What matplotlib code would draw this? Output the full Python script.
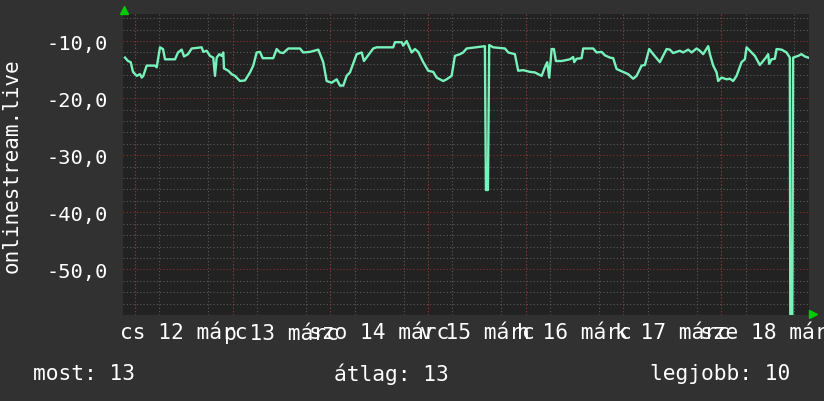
import datetime as dt
import matplotlib
matplotlib.use("Agg")
import matplotlib.pyplot as plt
import matplotlib.dates as mdates
from matplotlib.ticker import MultipleLocator, FuncFormatter

# hours after 2020-03-12 00:00 and the values
hours = [-2.46, -1.72, -1.06, -0.49, 0.42, 1.23, 1.65, 2.04, 2.87, 4.91,
         5.33, 6.14, 6.88, 7.37, 9.83, 10.56, 11.47, 12.04, 13.02, 13.93,
         16.38, 16.78, 17.61, 18.42, 19.23, 19.65, 20.07, 20.71, 21.30, 21.69,
         21.86, 22.92, 23.75, 24.56, 25.79, 27.02, 28.25, 29.06, 29.89, 30.71,
         31.37, 33.97, 34.81, 35.62, 36.43, 37.66, 40.53, 41.34, 42.99, 45.03,
         46.25, 47.09, 48.32, 49.55, 50.36, 51.17, 52.00, 52.81, 54.46, 55.69,
         56.25, 58.54, 59.37, 63.45, 63.87, 65.51, 65.90, 66.74, 67.55, 67.97,
         68.78, 69.59, 70.82, 72.04, 73.27, 74.11, 75.73, 76.57, 77.79, 78.60,
         79.83, 80.64, 81.48, 85.97, 86.22, 86.71, 87.03, 88.01, 90.89, 91.70,
         93.34, 94.15, 95.38, 97.03, 98.26, 99.07, 99.90, 100.71, 101.28, 101.77,
         102.36, 102.92, 103.41, 104.81, 106.85, 107.66, 107.91, 108.50, 109.73, 110.12,
         112.58, 113.41, 114.64, 115.45, 116.68, 117.49, 118.33, 119.95, 121.18, 122.40,
         123.24, 124.47, 125.28, 126.33, 127.32, 128.96, 130.61, 131.42, 132.23, 133.87,
         134.68, 135.91, 136.75, 137.98, 138.79, 139.60, 140.83, 141.25, 142.06, 142.90,
         143.28, 144.12, 145.35, 146.16, 146.97, 147.80, 149.03, 149.84, 150.26, 151.49,
         152.30, 153.53, 155.01, 155.57, 155.81, 156.40, 157.21, 157.63, 158.86, 160.08,
         160.89, 161.00, 161.50, 161.70, 162.93, 163.76, 164.58, 165.39]
values = [-12.9, -13.5, -13.7, -15.4, -16.1, -15.8, -16.4, -16.1, -14.3, -14.3,
          -14.6, -11.1, -11.4, -13.2, -13.2, -12.0, -11.5, -12.7, -12.3, -11.3,
          -11.1, -11.9, -11.7, -12.6, -12.9, -16.1, -12.9, -12.3, -12.6, -12.0,
          -14.8, -15.2, -15.8, -16.1, -17.0, -16.9, -15.5, -14.3, -12.0, -11.9,
          -13.0, -13.0, -11.4, -12.0, -12.1, -11.3, -11.3, -12.0, -11.9, -11.5,
          -13.7, -17.0, -17.3, -16.7, -17.8, -17.8, -16.1, -15.5, -12.3, -12.0,
          -13.5, -11.3, -11.1, -11.1, -10.2, -10.2, -10.8, -10.0, -11.3, -12.0,
          -11.4, -11.9, -13.7, -15.2, -15.4, -16.4, -17.0, -16.7, -16.1, -12.6,
          -12.3, -12.0, -11.3, -10.9, -36.1, -36.1, -10.7, -11.1, -11.3, -12.0,
          -12.3, -15.2, -15.1, -15.4, -15.5, -15.8, -16.1, -14.6, -13.7, -16.4,
          -11.4, -11.4, -13.5, -13.5, -13.2, -12.8, -13.7, -13.1, -13.0, -11.3,
          -11.3, -12.0, -11.9, -12.5, -12.9, -13.0, -14.9, -15.4, -15.8, -16.6,
          -16.1, -14.3, -14.2, -11.4, -12.3, -13.7, -11.4, -11.5, -12.1, -11.7,
          -12.0, -11.5, -12.0, -11.3, -11.7, -12.3, -10.9, -12.3, -14.3, -15.5,
          -17.0, -16.4, -16.7, -16.6, -17.0, -16.1, -13.7, -13.2, -11.1, -12.0,
          -12.6, -14.2, -12.9, -12.3, -14.0, -13.2, -13.1, -11.4, -11.5, -12.0,
          -12.9, -57.9, -57.9, -12.9, -12.6, -12.3, -12.7, -12.9]

start = dt.datetime(2020, 3, 12)
times = [start + dt.timedelta(hours=h) for h in hours]
x_from = start + dt.timedelta(hours=-2.95)
x_to = start + dt.timedelta(hours=165.6)

day_labels = ["cs 12 márc", "p 13 márc", "szo 14 márc", "v 15 márc",
              "h 16 márc", "k 17 márc", "sze 18 márc"]
label_times = [start + dt.timedelta(days=i, hours=12) for i in range(len(day_labels))]
midnights = [start + dt.timedelta(days=i) for i in range(7)]

title_y = "onlinestream.live"
legend_items = ["most: 13", "átlag: 13", "legjobb: 10"]

bg = "#313131"
canvas = "#222222"
fg = "#ffffff"
mono = "DejaVu Sans Mono"

W, H = 824, 402
fig = plt.figure(figsize=(W / 100, H / 100), dpi=100, facecolor=bg)
ax = fig.add_axes([123 / W, 1 - 316 / H, (809 - 123) / W, (316 - 15) / H])
ax.set_facecolor(canvas)
for s in ax.spines.values():
    s.set_visible(False)

ax.set_xlim(x_from, x_to)
ax.set_ylim(-58.0, -5.26)

# grids
ax.yaxis.set_major_locator(MultipleLocator(10))
ax.yaxis.set_minor_locator(MultipleLocator(2))
ax.xaxis.set_minor_locator(mdates.HourLocator(byhour=[0, 6, 12, 18]))
ax.grid(which="minor", color="#5a5a5a", linestyle=(0, (1, 2)), linewidth=0.8)
ax.grid(which="major", axis="y", color="#8a2e2e", linestyle=(0, (1, 2)), linewidth=0.8)
for m in midnights:
    ax.axvline(m, color="#8a2e2e", linestyle=(0, (1, 2)), linewidth=0.8, zorder=0.6)
ax.set_axisbelow(True)

ax.set_xticks(label_times)
ax.set_xticklabels(day_labels)
ax.yaxis.set_major_formatter(FuncFormatter(lambda v, p: f"{v:.1f}".replace(".", ",")))
ax.tick_params(which="both", length=0)
ax.tick_params(axis="y", pad=11, labelsize=14.7, labelcolor=fg)
ax.tick_params(axis="x", pad=5, labelsize=15.3, labelcolor=fg)
for t in ax.get_xticklabels() + ax.get_yticklabels():
    t.set_family(mono)

ax.plot(times, values, color="#78f2bb", linewidth=1.7, zorder=3)

ax.set_ylabel(title_y, family=mono, fontsize=15, color=fg, va="center")
ax.yaxis.set_label_coords(-0.162, 0.5)

# axis arrows
ax.plot([0.002], [1.013], marker="^", markersize=6, color="#00cc00",
        transform=ax.transAxes, clip_on=False, linestyle="none")
ax.plot([1.006], [0.003], marker=">", markersize=6, color="#00cc00",
        transform=ax.transAxes, clip_on=False, linestyle="none")

legend_x = [33, 334, 650]
for lx, txt in zip(legend_x, legend_items):
    fig.text(lx / W, 1 - 374 / H, txt, family=mono, fontsize=15.3, color=fg,
             ha="left", va="center")

fig.savefig("out.png", dpi=100, facecolor=bg)
